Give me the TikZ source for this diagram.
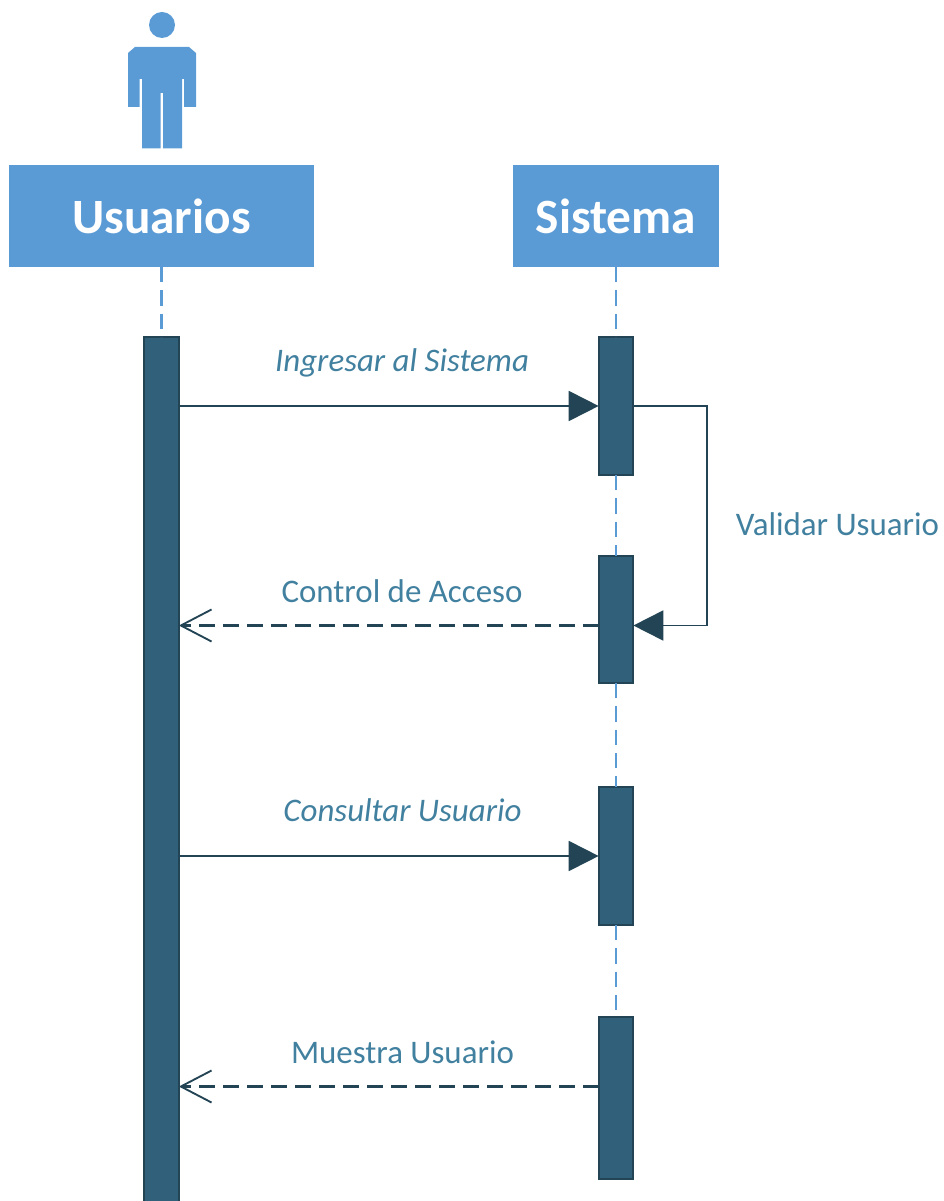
\documentclass[tikz,border=0pt]{standalone}
\usepackage{fontspec}
\setmainfont{Carlito}
\usetikzlibrary{arrows.meta}
\definecolor{hdr}{HTML}{5B9BD5}
\definecolor{barfill}{HTML}{31617A}
\definecolor{barline}{HTML}{234454}
\definecolor{lbl}{HTML}{41809F}
\tikzset{
  x=0.75pt,y=-0.75pt,
  header/.style={fill=hdr,draw=none,inner sep=0,outer sep=0,text=white,font=\fontsize{37}{42}\selectfont\bfseries},
  actbar/.style={fill=barfill,draw=barline,line width=1.3pt,inner sep=0,outer sep=0,minimum width=26pt,anchor=north},
  lifeline/.style={draw=hdr,line width=1.8pt,dash pattern=on 11.5pt off 6pt},
  lifelines/.style={lifeline,line width=2.1pt},
  call/.style={draw=barline,line width=1.4pt,-{Triangle[length=22.5pt,width=22.5pt,fill=barline]}},
  reply/.style={draw=barline,line width=1.6pt,dash pattern=on 12pt off 6pt,-{Straight Barb[length=23pt,width=24pt,line width=1.4pt]}},
  msg/.style={inner sep=0,text=lbl,font=\fontsize{24.7}{29}\selectfont},
  msgit/.style={msg,font=\fontsize{24.7}{29}\selectfont\itshape},
}
\begin{document}
\begin{tikzpicture}
\useasboundingbox (0,0) rectangle (944,1201);
% actor
\fill[hdr] (162,25) circle (13);
\fill[hdr] (135,47) -- (189,47) -- (196,53) -- (196,107) -- (184,107) -- (184,79) -- (182,79) -- (182,148.5)
  -- (163,148.5) -- (163,93) -- (160.5,93) -- (160.5,148.5) -- (142,148.5) -- (142,79) -- (139.5,79) -- (139.5,107)
  -- (128,107) -- (128,53) -- cycle;
% headers
\node[header,minimum width=229pt,minimum height=76.5pt] (usr) at (161.5,216) {Usuarios};
\node[header,minimum width=155pt,minimum height=76.5pt] (sys) at (616,216) {Sistema};
% activation bars
\node[actbar,minimum height=651pt] (ub) at (161.5,337) {};
\node[actbar,minimum height=103.5pt] (s1) at (616,337) {};
\node[actbar,minimum height=95.25pt] (s2) at (616,556) {};
\node[actbar,minimum height=103.5pt] (s3) at (616,787) {};
\node[actbar,minimum height=121.5pt] (s4) at (616,1017) {};
% lifelines
\draw[lifeline] (usr.south) -- (ub.north);
\draw[lifelines] (sys.south) -- (s1.north);
\draw[lifelines] (s1.south) -- (s2.north);
\draw[lifelines] (s2.south) -- (s3.north);
\draw[lifelines] (s3.south) -- (s4.north);
% message rows
\coordinate (r1) at (400,406);
\coordinate (r2) at (400,625.5);
\coordinate (r3) at (400,856);
\coordinate (r4) at (400,1086.5);
\coordinate (turn) at (707,500);
% connectors
\draw[call] (ub.east |- r1) -- (s1.west |- r1);
\draw[call] (s1.east |- r1) -- (turn |- r1) -- (turn |- r2) -- (s2.east |- r2);
\draw[reply] (s2.west |- r2) -- (ub.east |- r2);
\draw[call] (ub.east |- r3) -- (s3.west |- r3);
\draw[reply] (s4.west |- r4) -- (ub.east |- r4);
% labels
\node[msgit] (t1) at (402,363) {Ingresar al Sistema};
\node[msg] (t2) at (837.5,524) {Validar Usuario};
\node[msg] (t3) at (402,591) {Control de Acceso};
\node[msgit] (t4) at (402.5,810) {Consultar Usuario};
\node[msg] (t5) at (402.5,1052) {Muestra Usuario};
\end{tikzpicture}
\end{document}
